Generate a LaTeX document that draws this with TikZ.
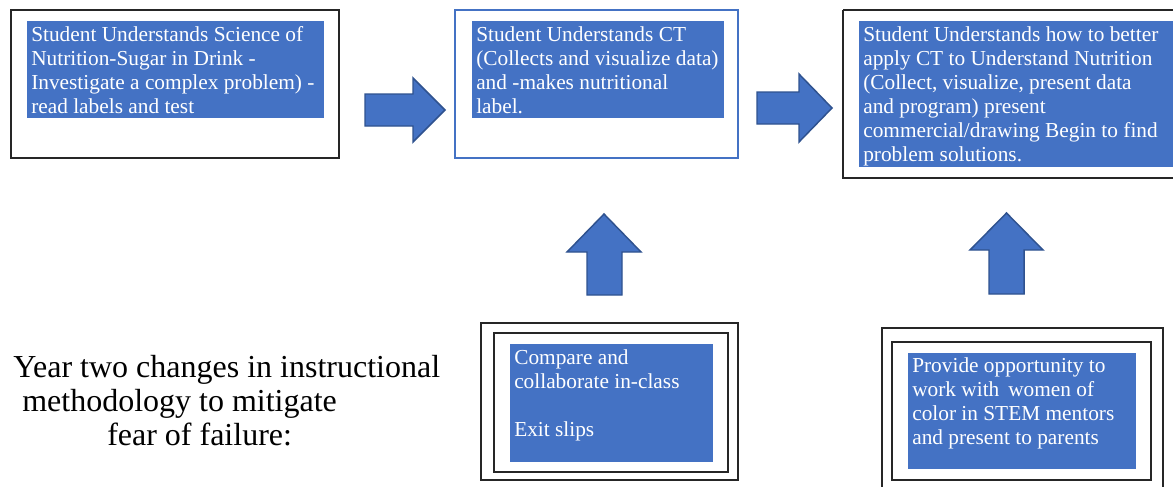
\documentclass[tikz,border=0pt]{standalone}
\usepackage{fontspec}
\setmainfont{Liberation Serif}
\definecolor{ofblue}{HTML}{4472C4}
\definecolor{ofdark}{HTML}{2F528F}
\newcommand\mystrut{\rule{0pt}{14pt}}
\begin{document}
\begin{tikzpicture}[x=0.75pt,y=-0.75pt,
  frame/.style={draw=black!85,line width=1pt},
  thinframe/.style={draw=black!85,line width=0.8pt},
  bluefill/.style={fill=ofblue,draw=none},
  boxtext/.style={anchor=north west,inner sep=0pt,text=white,align=left,
     font=\fontsize{16pt}{18pt}\selectfont},
  blockarrow/.style={fill=ofblue,draw=ofdark,line width=1.1pt,line join=miter}]
\useasboundingbox (0,0) rectangle (1173,486);
\fill[white] (0,0) rectangle (1173,486);

% box 1
\draw[frame] (11,10) rectangle (339,158);
\fill[bluefill] (27,21) rectangle (324,118);
\node[boxtext] (t1) at (31,22.3) {\mystrut Student Understands Science of\\Nutrition-Sugar in Drink -\\Investigate a complex problem) -\\read labels and test};

% box 2
\draw[draw=ofblue,line width=0.8pt] (455,10) rectangle (738,158);
\fill[bluefill] (472,21) rectangle (724,118);
\node[boxtext] (t2) at (476,22.3) {\mystrut Student Understands CT\\(Collects and visualize data)\\and -makes nutritional\\label.};

% box 3
\draw[frame] (843,10) -- (1176,10) (843,10) -- (843,178) -- (1176,178);
\fill[bluefill] (859,21) rectangle (1176,167);
\node[boxtext] (t3) at (863,22.3) {\mystrut Student Understands how to better\\apply CT to Understand Nutrition\\(Collect, visualize, present data\\and program) present\\commercial/drawing Begin to find\\problem solutions.};

% box 4
\draw[thinframe] (481,323) rectangle (738,480);
\draw[thinframe] (494,333) rectangle (728,472);
\fill[bluefill] (510,344) rectangle (713,462);
\node[boxtext] (t4) at (514,345.3) {\mystrut Compare and\\collaborate in-class\\[18pt]Exit slips};

% box 5
\draw[thinframe] (882,490) -- (882,328) -- (1163,328) -- (1163,490);
\draw[thinframe] (892,342) rectangle (1151,480);
\fill[bluefill] (908,353) rectangle (1136,469);
\node[boxtext] (t5) at (912,353.3) {\mystrut Provide opportunity to\\work with\, women of\\color in STEM mentors\\and present to parents};

% left text
\node[anchor=north west,inner sep=0pt,align=left,font=\fontsize{24pt}{25.5pt}\selectfont] (lt) at (13,351)
 {\rule{0pt}{20pt}Year two changes in instructional\\\hspace*{6.75pt}methodology to mitigate\\\hspace*{70.5pt}fear of failure:};

% block arrows
\draw[blockarrow] (365,94) -- (413,94) -- (413,78) -- (445,110) -- (413,142) -- (413,126) -- (365,126) -- cycle;
\draw[blockarrow] (757,92) -- (799,92) -- (799,74) -- (832,108) -- (799,142) -- (799,124) -- (757,124) -- cycle;
\draw[blockarrow] (587,295) -- (587,252) -- (567,252) -- (604,214) -- (641,252) -- (622,252) -- (622,295) -- cycle;
\draw[blockarrow] (989,294) -- (989,250) -- (970,250) -- (1006.5,213) -- (1043,250) -- (1024,250) -- (1024,294) -- cycle;
\end{tikzpicture}
\end{document}
